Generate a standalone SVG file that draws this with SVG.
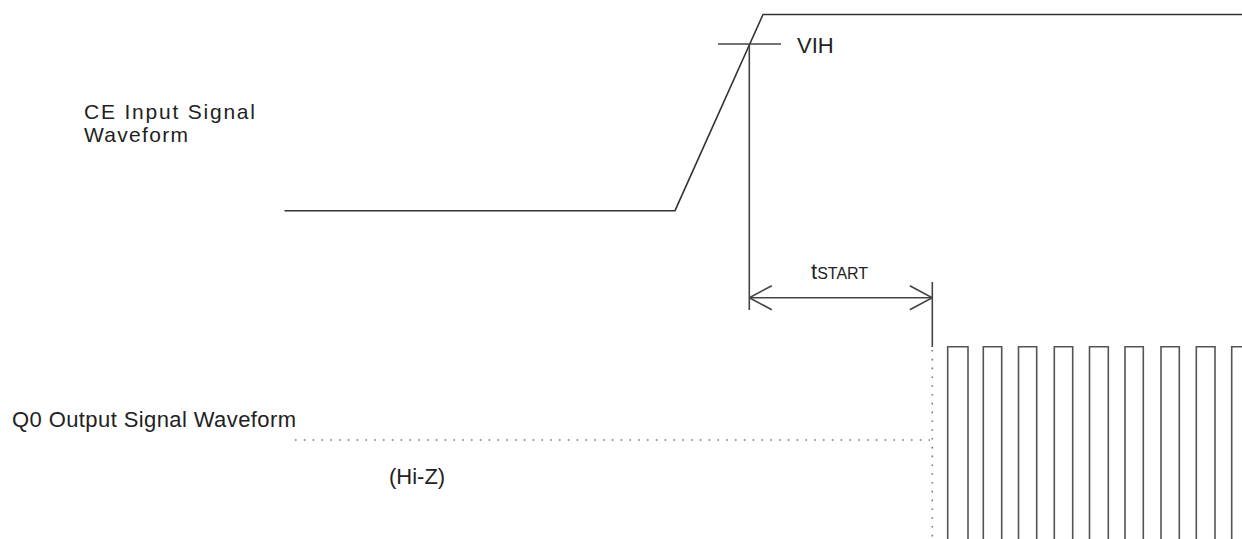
<svg xmlns="http://www.w3.org/2000/svg" width="1242" height="539" viewBox="0 0 1242 539">
<defs>
<style>
.txt{font-family:"Liberation Sans",Arial,sans-serif;font-size:22px;fill:#222}
.ce{font-size:21px}
.sub{font-size:16px}
.wave{fill:none;stroke:#333;stroke-width:1.6}
.pulse{fill:none;stroke:#555;stroke-width:1.6}
.dot{fill:none;stroke:#777;stroke-width:1.6;stroke-dasharray:1.6 7.2}
.dim{fill:none;stroke:#444;stroke-width:1.6}
</style>
<marker id="openArrow" viewBox="0 0 24 26" refX="23.5" refY="13" markerWidth="24" markerHeight="26" markerUnits="userSpaceOnUse" orient="auto-start-reverse">
<path d="M1 1 L23.5 13 L1 25" fill="none" stroke="#444" stroke-width="1.6"/>
</marker>
</defs>
<rect width="1242" height="539" fill="#fff"/>

<g id="label-ce">
<text class="txt ce" x="84" y="119.3" textLength="171" lengthAdjust="spacing">CE Input Signal</text>
<text class="txt ce" x="84" y="141.7" textLength="104" lengthAdjust="spacing">Waveform</text>
</g>

<g id="label-q0">
<text class="txt" x="12" y="426.7" textLength="284" lengthAdjust="spacing">Q0 Output Signal Waveform</text>
</g>

<g id="label-hiz">
<text class="txt" x="389" y="484">(Hi-Z)</text>
</g>

<g id="ce-waveform">
<path class="wave" d="M284.5 210.7 H675 L763 14.5 H1242"/>
</g>

<g id="vih-level">
<line class="dim" x1="718" y1="44" x2="781" y2="44"/>
<text class="txt" x="797" y="52.7">VIH</text>
</g>

<g id="q0-waveform">
<path class="dot" d="M295 440 H930"/>
<path class="dot" d="M932.3 350 V539"/>
<path class="pulse" d="M947.7 539 V346.7 H968 V539"/>
<path class="pulse" d="M983.3 539 V346.7 H1001.7 V539"/>
<path class="pulse" d="M1018.5 539 V346.7 H1036.7 V539"/>
<path class="pulse" d="M1054.3 539 V346.7 H1072.7 V539"/>
<path class="pulse" d="M1089.5 539 V346.7 H1108.3 V539"/>
<path class="pulse" d="M1125 539 V346.7 H1143.3 V539"/>
<path class="pulse" d="M1161 539 V346.7 H1179.3 V539"/>
<path class="pulse" d="M1196.3 539 V346.7 H1215 V539"/>
<path class="pulse" d="M1231.7 539 V346.7 H1250"/>
</g>

<g id="tstart-label">
<text class="txt" x="811" y="279.3" font-size="23">t<tspan class="sub">START</tspan></text>
</g>

<g id="connectors">
<line class="dim" x1="749.3" y1="44" x2="749.3" y2="310"/>
<line class="dim" x1="932.3" y1="282" x2="932.3" y2="347"/>
<line class="dim" x1="749.3" y1="297.7" x2="932.3" y2="297.7" marker-start="url(#openArrow)" marker-end="url(#openArrow)"/>
</g>
</svg>
